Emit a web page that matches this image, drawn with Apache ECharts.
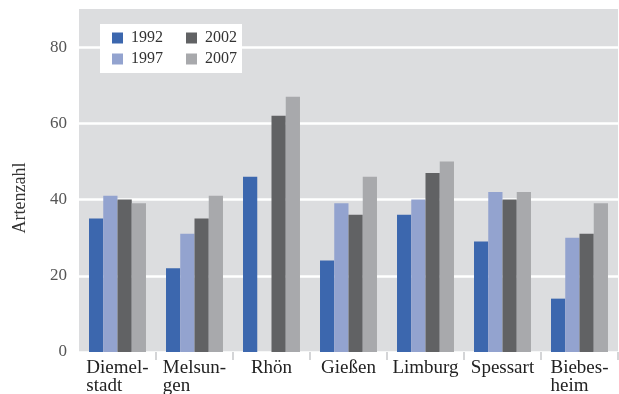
<!DOCTYPE html>
<html>
<head>
<meta charset="utf-8">
<script src="https://cdn.jsdelivr.net/npm/echarts@6/dist/echarts.min.js"></script>
<style>
html,body{margin:0;padding:0;background:#fff;}
#chart{width:619px;height:394px;}
</style>
</head>
<body>
<div id="chart"></div>
<script>
var categories = ['Diemel-\nstadt', 'Melsun-\ngen', 'Rhön', 'Gießen', 'Limburg', 'Spessart', 'Biebes-\nheim'];
var years = ['1992', '1997', '2002', '2007'];
var v1992 = [35, 22, 46, 24, 36, 29, 14];
var v1997 = [41, 31, null, 39, 40, 42, 30];
var v2002 = [40, 35, 62, 36, 47, 40, 31];
var v2007 = [39, 41, 67, 46, 50, 42, 39];
var yTicks = [0, 20, 40, 60, 80];
var yAxisTitle = 'Artenzahl';

var colors = ['#3c67ae', '#93a3cf', '#616264', '#a8a9ac'];
var seriesValues = [v1992, v1997, v2002, v2007];
var FONT = '"Liberation Serif", serif';

var legendText = { fontFamily: FONT, fontSize: 16, color: '#333', padding: [0, 0, 0, 3] };

var chart = echarts.init(document.getElementById('chart'));
chart.setOption({
  animation: false,
  color: colors,
  grid: {
    left: 79, right: 1, top: 9, bottom: 42,
    outerBoundsMode: 'none',
    containLabel: false,
    show: true, backgroundColor: '#dcdddf', borderWidth: 0
  },
  legend: [{
    data: [years[0], years[2]],
    left: 100, top: 24,
    orient: 'horizontal',
    padding: [6, 5, 27, 12],
    itemGap: 23,
    itemWidth: 11, itemHeight: 11,
    icon: 'rect',
    backgroundColor: '#ffffff',
    textStyle: legendText
  }, {
    data: [years[1], years[3]],
    left: 112, top: 51,
    orient: 'horizontal',
    padding: 0,
    z: 6,
    itemGap: 23,
    itemWidth: 11, itemHeight: 11,
    icon: 'rect',
    textStyle: legendText
  }],
  xAxis: {
    type: 'category',
    data: categories,
    axisLine: { show: false },
    axisTick: {
      show: true, length: 8,
      interval: function (index) { return index !== 0; },
      lineStyle: { color: '#d4d5d7', width: 2 }
    },
    axisLabel: {
      margin: 7,
      interval: 0,
      fontFamily: FONT, fontSize: 19, color: '#222', lineHeight: 18,
      formatter: function (v) {
        return v.split('\n').map(function (s) { return '{a|' + s + '}'; }).join('\n');
      },
      rich: { a: { align: 'left', fontFamily: FONT, fontSize: 19, color: '#222', lineHeight: 18 } }
    }
  },
  yAxis: {
    type: 'value',
    min: yTicks[0], max: 90, interval: 20,
    axisLine: { show: false },
    axisTick: { show: false },
    axisLabel: {
      margin: 12, showMaxLabel: false,
      fontFamily: FONT, fontSize: 17, color: '#555',
      formatter: function (v) { return yTicks.indexOf(v) >= 0 ? String(v) : ''; }
    },
    splitLine: { show: true, showMaxLine: false, lineStyle: { color: '#ffffff', width: 2.5 } }
  },
  graphic: [{
    type: 'text',
    x: 20, y: 198,
    rotation: Math.PI / 2,
    style: {
      text: yAxisTitle,
      fontFamily: FONT, fontSize: 18, fill: '#333',
      textAlign: 'center', textVerticalAlign: 'middle'
    }
  }],
  series: years.map(function (y, i) {
    return {
      name: y,
      type: 'bar',
      data: seriesValues[i],
      barGap: '0%',
      barCategoryGap: '26%',
      itemStyle: { color: colors[i] }
    };
  })
});
</script>
</body>
</html>
